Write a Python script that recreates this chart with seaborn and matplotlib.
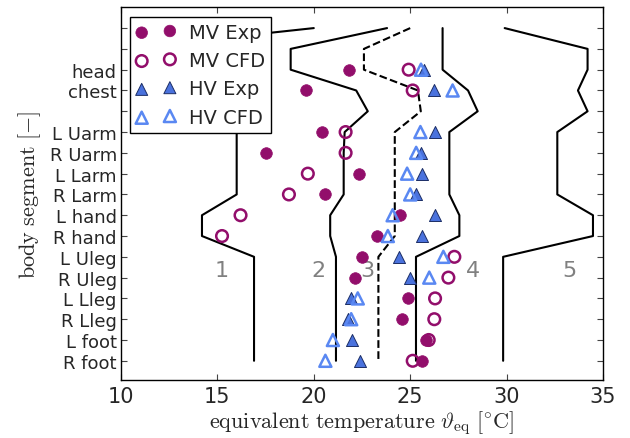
import numpy as np
import pandas as pd
import matplotlib
matplotlib.use("Agg")
import matplotlib.pyplot as plt
import seaborn as sns

# Body segments, top to bottom, and the row each one occupies
segments = ["head", "chest", "L Uarm", "R Uarm", "L Larm", "R Larm", "L hand",
            "R hand", "L Uleg", "R Uleg", "L Lleg", "R Lleg", "L foot", "R foot"]
segment_rows = [15, 14, 12, 11, 10, 9, 8, 7, 6, 5, 4, 3, 2, 1]

# Equivalent temperatures per segment [°C]
mv_exp = [21.82, 19.58, 20.44, 17.54, 22.33, 20.56, 24.48, 23.27, 22.49, 22.15, 24.91, 24.58, 25.82, 25.60]
mv_cfd = [24.92, 25.13, 21.65, 21.65, 19.69, 18.71, 16.20, 15.24, 27.29, 26.98, 26.29, 26.25, 25.96, 25.13]
hv_exp = [25.73, 26.22, 26.30, 25.56, 25.60, 25.31, 26.29, 25.62, 24.44, 25.01, 21.94, 21.76, 21.99, 22.41]
hv_cfd = [25.56, 27.20, 25.53, 25.31, 24.84, 25.00, 24.09, 23.84, 26.72, 25.99, 22.28, 21.94, 20.99, 20.60]

# Comfort-zone boundaries, one value per row from row 17 down to row 1
boundary_rows = list(range(17, 0, -1))
limit_23 = [23.8, 18.8, 18.8, 22.2, 22.8, 21.6, 21.55, 21.55, 21.55, 20.85, 20.85, 21.15, 21.15, 21.15, 21.15, 21.15, 21.15]
neutral = [25.0, 22.6, 22.6, 25.4, 25.55, 24.2, 24.2, 24.2, 24.2, 24.2, 24.2, 23.35, 23.35, 23.35, 23.35, 23.35, 23.35]
limit_34 = [26.68, 26.68, 26.68, 28.0, 28.5, 27.03, 27.03, 27.03, 27.03, 27.55, 27.55, 25.3, 25.3, 25.3, 25.3, 25.3, 25.3]
limit_45 = [29.9, 34.2, 34.2, 33.7, 34.2, 32.63, 32.63, 32.63, 32.63, 34.48, 34.48, 29.82, 29.82, 29.82, 29.82, 29.82, 29.82]
# the cold limit has its own vertices near the top
limit_12_rows = [17, 16.4, 13, 12, 11, 10, 9, 8, 7, 6, 5, 4, 3, 2, 1]
limit_12 = [20.0, 14.0, 16.0, 16.0, 16.0, 16.0, 16.0, 14.2, 14.2, 16.9, 16.9, 16.9, 16.9, 16.9, 16.9]

zone_names = ["1", "2", "3", "4", "5"]
zone_x = [15.21, 20.25, 22.78, 28.27, 33.24]
zone_y = 5.35

sns.set_style("ticks")
plt.rcParams["font.family"] = ["DejaVu Sans"]
plt.rcParams["mathtext.fontset"] = "cm"

fig = plt.figure(figsize=(6.3, 4.39), dpi=100)
ax = fig.add_axes([121 / 630, 1 - 380.5 / 439, (603 - 121) / 630, (380.5 - 8.3) / 439])

purple = "#920e6b"
blue_fill = "#4a72dd"
blue_edge = "#1c2e66"
blue_open = "#5a88f2"

# zone boundary lines
for vals, rows, ls in [(limit_12, limit_12_rows, "-"), (limit_23, boundary_rows, "-"),
                       (neutral, boundary_rows, "--"), (limit_34, boundary_rows, "-"),
                       (limit_45, boundary_rows, "-")]:
    sns.lineplot(x=vals, y=rows, sort=False, estimator=None, ax=ax,
                 color="black", linewidth=1.5, linestyle=ls, legend=False, zorder=2)

for name, xz in zip(zone_names, zone_x):
    ax.text(xz, zone_y, name, ha="center", va="center", fontsize=16,
            color="#808080", zorder=1)

seg = pd.DataFrame({"row": segment_rows, "mv_exp": mv_exp, "mv_cfd": mv_cfd,
                    "hv_exp": hv_exp, "hv_cfd": hv_cfd})

sns.scatterplot(data=seg, x="mv_exp", y="row", marker="o", s=70, color=purple,
                edgecolor=purple, linewidth=0.5, label="MV Exp", ax=ax, zorder=4)
sns.scatterplot(data=seg, x="mv_cfd", y="row", marker="o", s=70, facecolor="none",
                edgecolor=purple, linewidth=1.8, label="MV CFD", ax=ax, zorder=4)
sns.scatterplot(data=seg, x="hv_exp", y="row", marker="^", s=75, color=blue_fill,
                edgecolor=blue_edge, linewidth=0.7, label="HV Exp", ax=ax, zorder=4)
sns.scatterplot(data=seg, x="hv_cfd", y="row", marker="^", s=75, facecolor="none",
                edgecolor=blue_open, linewidth=1.8, label="HV CFD", ax=ax, zorder=4)

ax.set_xlim(10, 35)
ax.set_ylim(0.1, 18)
ax.set_xticks([10, 15, 20, 25, 30, 35])
ax.set_yticks(range(1, 18))
labels = [""] * 17
for name, r in zip(segments, segment_rows):
    labels[r - 1] = name
ax.set_yticklabels(labels, fontsize=13)
ax.tick_params(axis="x", labelsize=15, pad=5)
ax.tick_params(axis="y", pad=3)
ax.tick_params(direction="in", top=True, right=True, length=4, width=0.8, color="#444444")
for sp in ax.spines.values():
    sp.set_linewidth(1.0)
    sp.set_color("black")

ax.set_xlabel(r"$\mathrm{equivalent\ temperature}\ \vartheta_{\mathrm{eq}}\ [^{\circ}\mathrm{C}]$",
              fontsize=16, labelpad=1)
ax.set_ylabel(r"$\mathrm{body\ segment}\ [-]$", fontsize=16, labelpad=5)

leg = ax.legend(loc="upper left", bbox_to_anchor=(0.0187, 0.974), borderaxespad=0,
                scatterpoints=2, fontsize=14, fancybox=False, framealpha=1,
                edgecolor="black", handlelength=2.05, handletextpad=0.7,
                labelspacing=0.48, borderpad=0.3)
leg.get_frame().set_linewidth(1.0)
leg.set_zorder(10)

fig.savefig("out.png", dpi=100)
